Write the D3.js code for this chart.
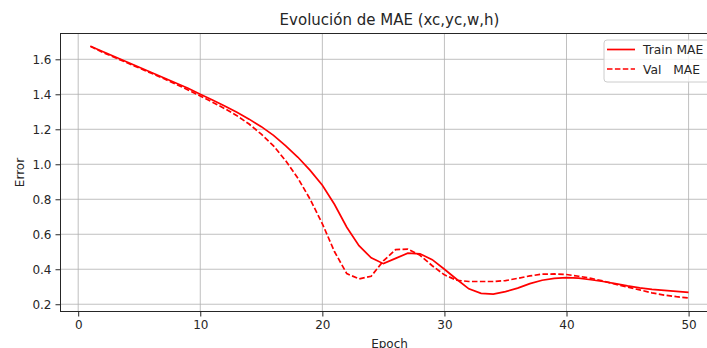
<!DOCTYPE html>
<html>
<head>
<meta charset="utf-8">
<script src="https://cdn.jsdelivr.net/npm/d3@7"></script>
<style>
  body { margin: 0; background: #fff; }
  text { font-family: "DejaVu Sans", sans-serif; fill: #262626; }
  .grid line { stroke: #b0b0b0; stroke-width: 0.8; }
  .spine { stroke: #262626; stroke-width: 1; fill: none; }
</style>
</head>
<body>
<div id="vis"></div>
<script>
var epochs = d3.range(1, 51);
var trainMae = [1.675, 1.645, 1.615, 1.585, 1.555, 1.525, 1.495, 1.465, 1.435, 1.400,
                1.368, 1.333, 1.297, 1.258, 1.215, 1.165, 1.105, 1.040, 0.965, 0.880,
                0.770, 0.640, 0.535, 0.465, 0.432, 0.462, 0.492, 0.488, 0.455, 0.400,
                0.343, 0.288, 0.262, 0.258, 0.272, 0.292, 0.318, 0.337, 0.348, 0.352,
                0.349, 0.340, 0.330, 0.318, 0.305, 0.294, 0.285, 0.279, 0.274, 0.268];
var valMae = [1.675, 1.640, 1.610, 1.580, 1.550, 1.520, 1.490, 1.458, 1.425, 1.390,
              1.355, 1.318, 1.278, 1.230, 1.172, 1.105, 1.020, 0.920, 0.800, 0.660,
              0.500, 0.375, 0.345, 0.360, 0.448, 0.512, 0.515, 0.480, 0.420, 0.368,
              0.337, 0.330, 0.330, 0.330, 0.335, 0.348, 0.362, 0.372, 0.373, 0.370,
              0.360, 0.348, 0.333, 0.314, 0.298, 0.282, 0.265, 0.252, 0.243, 0.236];
var xTicks = [0, 10, 20, 30, 40, 50];
var yTicks = [0.2, 0.4, 0.6, 0.8, 1.0, 1.2, 1.4, 1.6];
var seriesNames = ["Train MAE", "Val   MAE"];

var width = 707, height = 348;
var plot = {left: 60.5, right: 718.5, top: 33.5, bottom: 311.5};

var svg = d3.select("#vis").append("svg")
  .attr("width", width)
  .attr("height", height);

var x = d3.scaleLinear().domain([-1.45, 52.45]).range([plot.left, plot.right]);
var y = d3.scaleLinear().domain([0.1585, 1.7475]).range([plot.bottom, plot.top]);

// grid
var grid = svg.append("g").attr("class", "grid");
grid.selectAll(".gx").data(xTicks).enter().append("line")
  .attr("x1", function(d) { return x(d); }).attr("x2", function(d) { return x(d); })
  .attr("y1", plot.top).attr("y2", plot.bottom);
grid.selectAll(".gy").data(yTicks).enter().append("line")
  .attr("y1", function(d) { return y(d); }).attr("y2", function(d) { return y(d); })
  .attr("x1", plot.left).attr("x2", plot.right);

// axes
var xAxis = d3.axisBottom(x).tickValues(xTicks).tickSize(5).tickPadding(4)
  .tickFormat(d3.format("d"));
var yAxis = d3.axisLeft(y).tickValues(yTicks).tickSize(5).tickPadding(4)
  .tickFormat(d3.format(".1f"));

var gx = svg.append("g").attr("transform", "translate(0," + plot.bottom + ")").call(xAxis);
var gy = svg.append("g").attr("transform", "translate(" + plot.left + ",0)").call(yAxis);
[gx, gy].forEach(function(g) {
  g.select(".domain").remove();
  g.selectAll(".tick line").attr("stroke", "#262626").attr("stroke-width", 1);
  g.selectAll(".tick text").attr("font-size", 12).attr("fill", "#262626")
    .style("font-family", "DejaVu Sans");
});

// lines
var line = d3.line()
  .x(function(d, i) { return x(epochs[i]); })
  .y(function(d) { return y(d); });

svg.append("path").datum(trainMae)
  .attr("d", line).attr("fill", "none")
  .attr("stroke", "#ff0000").attr("stroke-width", 1.7);
svg.append("path").datum(valMae)
  .attr("d", line).attr("fill", "none")
  .attr("stroke", "#ff0000").attr("stroke-width", 1.7)
  .attr("stroke-dasharray", "5.5,2.4");

// spines
svg.append("rect").attr("class", "spine")
  .attr("x", plot.left).attr("y", plot.top)
  .attr("width", plot.right - plot.left).attr("height", plot.bottom - plot.top);

// title and labels
svg.append("text").attr("x", (plot.left + plot.right) / 2).attr("y", 25)
  .attr("text-anchor", "middle").attr("font-size", 15)
  .text("Evolución de MAE (xc,yc,w,h)");
svg.append("text").attr("x", (plot.left + plot.right) / 2).attr("y", 347.5)
  .attr("text-anchor", "middle").attr("font-size", 12)
  .text("Epoch");
svg.append("text")
  .attr("transform", "translate(24," + ((plot.top + plot.bottom) / 2) + ") rotate(-90)")
  .attr("text-anchor", "middle").attr("font-size", 12)
  .text("Error");

// legend
var legend = svg.append("g").attr("transform", "translate(604,40)");
legend.append("rect")
  .attr("width", 120).attr("height", 42).attr("rx", 3)
  .attr("fill", "#fff").attr("fill-opacity", 0.8)
  .attr("stroke", "#cccccc").attr("stroke-width", 1);
var items = legend.selectAll(".item").data(seriesNames).enter().append("g")
  .attr("transform", function(d, i) { return "translate(0," + (9.5 + i * 19.5) + ")"; });
items.append("line")
  .attr("x1", 3).attr("x2", 31).attr("y1", 0).attr("y2", 0)
  .attr("stroke", "#ff0000").attr("stroke-width", 1.7)
  .attr("stroke-dasharray", function(d, i) { return i ? "5.5,2.4" : null; });
items.append("text")
  .attr("x", 39).attr("y", 4.5).attr("font-size", 12.3)
  .style("white-space", "pre")
  .text(function(d) { return d; });
</script>
</body>
</html>
